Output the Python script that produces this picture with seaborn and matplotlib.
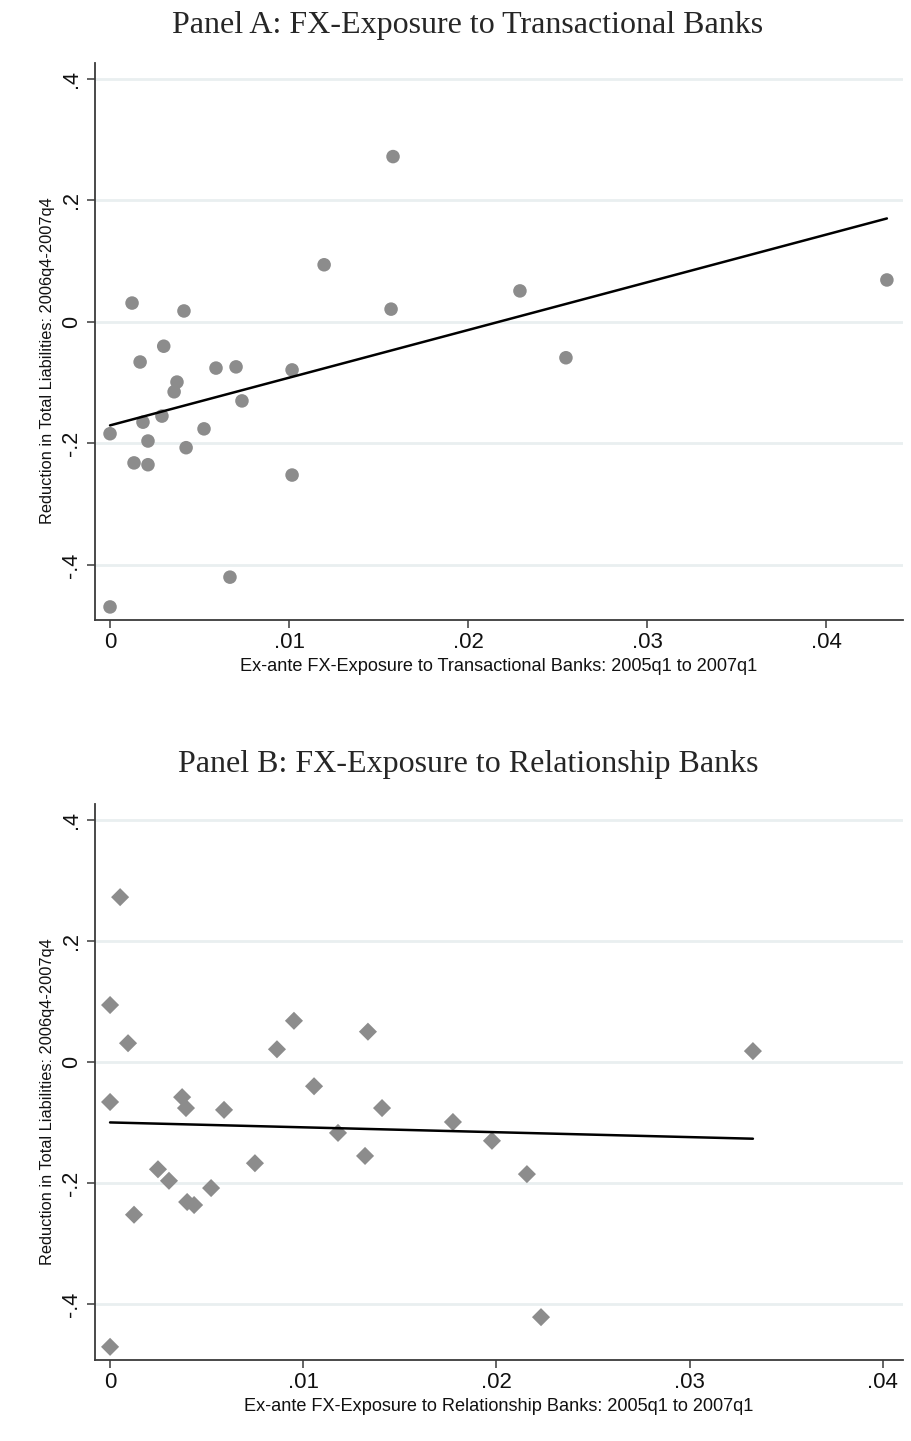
import numpy as np
import pandas as pd
import matplotlib
matplotlib.use("Agg")
import matplotlib.pyplot as plt
import seaborn as sns

# ---------------- data ----------------
# Panel A: transactional banks exposure
xa = [0.0, 0.0, 0.00123, 0.00134, 0.00168, 0.00184, 0.00212, 0.00212, 0.0029,
      0.0030, 0.00358, 0.00374, 0.00413, 0.00425, 0.00525, 0.00592, 0.0067,
      0.00704, 0.00737, 0.01017, 0.01017, 0.01196, 0.01581, 0.0157, 0.0229,
      0.02547, 0.0434]
ya = [-0.469, -0.184, 0.031, -0.232, -0.066, -0.165, -0.196, -0.235, -0.155,
      -0.040, -0.115, -0.099, 0.018, -0.207, -0.176, -0.076, -0.420,
      -0.074, -0.130, -0.079, -0.252, 0.094, 0.272, 0.021, 0.051,
      -0.059, 0.069]

# Panel B: relationship banks exposure
xb = [0.0, 0.0, 0.0, 0.00052, 0.00093, 0.00124, 0.00248, 0.00305, 0.00373,
      0.00393, 0.00399, 0.00435, 0.00523, 0.0059, 0.0075, 0.00864, 0.00952,
      0.01056, 0.01335, 0.0118, 0.01408, 0.0132, 0.01775, 0.01977, 0.02158,
      0.02231, 0.03328]
yb = [-0.470, 0.094, -0.066, 0.272, 0.031, -0.252, -0.177, -0.196, -0.058,
      -0.076, -0.231, -0.236, -0.208, -0.079, -0.167, 0.021, 0.068,
      -0.040, 0.050, -0.117, -0.076, -0.155, -0.099, -0.130, -0.185,
      -0.421, 0.018]

yticks = [-0.4, -0.2, 0.0, 0.2, 0.4]
ytick_labels = ["-.4", "-.2", "0", ".2", ".4"]
xticks = [0.0, 0.01, 0.02, 0.03, 0.04]
xtick_labels = ["0", ".01", ".02", ".03", ".04"]

title_a = "Panel A: FX-Exposure to Transactional Banks"
title_b = "Panel B: FX-Exposure to Relationship Banks"
xlabel_a = "Ex-ante FX-Exposure to Transactional Banks: 2005q1 to 2007q1"
xlabel_b = "Ex-ante FX-Exposure to Relationship Banks: 2005q1 to 2007q1"
ylabel = "Reduction in Total Liabilities: 2006q4-2007q4"

# ---------------- style ----------------
sns.set_style("white")
plt.rcParams["font.family"] = ["Liberation Sans", "DejaVu Sans"]

W, H = 912, 1441
fig = plt.figure(figsize=(W / 100, H / 100), dpi=100)

grid_col = "#e9eff0"
pt_col = "#8c8c8c"
spine_col = "#3a3a3a"


def px_axes(left, top, right, bottom):
    return fig.add_axes([left / W, 1 - bottom / H, (right - left) / W, (bottom - top) / H])


def style(ax, xlim, ylim, xlabel):
    ax.set_xlim(*xlim)
    ax.set_ylim(*ylim)
    ax.set_yticks(yticks)
    ax.set_yticklabels(ytick_labels, rotation=90, va="center", fontsize=15.5)
    ax.set_xticks(xticks)
    ax.set_xticklabels(xtick_labels, fontsize=16)
    for s in ["top", "right"]:
        ax.spines[s].set_visible(False)
    for s in ["left", "bottom"]:
        ax.spines[s].set_color(spine_col)
        ax.spines[s].set_linewidth(1.3)
    ax.tick_params(axis="both", which="major", direction="out", length=6,
                   width=1.1, color=spine_col, labelcolor="#111111", pad=3,
                   left=True, bottom=True)
    ax.yaxis.grid(True, color=grid_col, linewidth=2)
    ax.xaxis.grid(False)
    ax.set_axisbelow(True)
    ax.set_xlabel(xlabel, fontsize=13.1, color="#111111", labelpad=3)
    ax.set_ylabel(ylabel, fontsize=11.8, color="#111111")
    ax.yaxis.set_label_coords(-0.049, 0.465)


dfa = pd.DataFrame({"x": xa, "y": ya})
dfb = pd.DataFrame({"x": xb, "y": yb})

# Panel A
axA = px_axes(95, 63, 903, 620)
sns.regplot(data=dfa, x="x", y="y", ax=axA, ci=None, truncate=True,
            marker="o",
            scatter_kws=dict(s=95, color=pt_col, edgecolor="none", alpha=1, zorder=3),
            line_kws=dict(color="black", linewidth=1.8, zorder=4))
style(axA, (-0.00084, 0.0443), (-0.4905, 0.426), xlabel_a)
fig.text(468 / W, 1 - 25 / H, title_a, ha="center", va="center",
         fontsize=23, family=["Liberation Serif", "DejaVu Serif"])

# Panel B
axB = px_axes(95, 804, 903, 1360)
sns.regplot(data=dfb, x="x", y="y", ax=axB, ci=None, truncate=True,
            marker="D",
            scatter_kws=dict(s=85, color=pt_col, edgecolor="none", alpha=1, zorder=3),
            line_kws=dict(color="black", linewidth=1.8, zorder=4))
style(axB, (-0.00078, 0.04105), (-0.4917, 0.4257), xlabel_b)
fig.text(468 / W, 1 - 765 / H, title_b, ha="center", va="center",
         fontsize=23, family=["Liberation Serif", "DejaVu Serif"])

fig.savefig("out.png", dpi=100, facecolor="white")
